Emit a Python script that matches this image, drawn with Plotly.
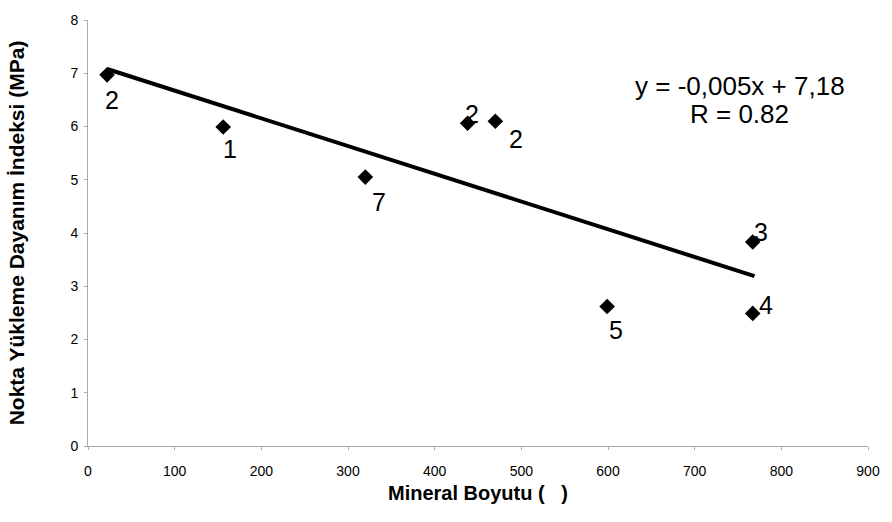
import plotly.graph_objects as go

# Data
mineral_size = [22, 156, 320, 438, 470, 599, 767, 767]
strength = [6.97, 5.99, 5.05, 6.06, 6.10, 2.62, 3.83, 2.49]
point_labels = ["2", "1", "7", "2", "2", "5", "3", "4"]

trend_x = [22, 769]
trend_y = [7.08, 3.19]

equation_lines = ["y = -0,005x + 7,18", "R = 0.82"]

x_ticks = [0, 100, 200, 300, 400, 500, 600, 700, 800, 900]
y_ticks = [0, 1, 2, 3, 4, 5, 6, 7, 8]

# Label pixel offsets (style only)
label_dx = [5, 7, 14, 4, 21, 9, 8, 13]
label_dy = [25, 22, 25, -9, 18, 24, -10, -8]

FONT = "Liberation Sans, Arial, sans-serif"

fig = go.Figure()
fig.add_trace(go.Scatter(
    x=trend_x, y=trend_y, mode="lines",
    line=dict(color="black", width=4), hoverinfo="skip", showlegend=False))
fig.add_trace(go.Scatter(
    x=mineral_size, y=strength, mode="markers",
    marker=dict(symbol="diamond", size=12, color="black"),
    showlegend=False))

for xv, yv, lab, dx, dy in zip(mineral_size, strength, point_labels, label_dx, label_dy):
    fig.add_annotation(
        x=xv, y=yv, xref="x", yref="y", text=lab, showarrow=False,
        xshift=dx, yshift=-dy,
        font=dict(family=FONT, size=25, color="black"))

for line_text, yv in zip(equation_lines, [6.77, 6.24]):
    fig.add_annotation(
        x=752, y=yv, xref="x", yref="y", text=line_text, showarrow=False,
        font=dict(family=FONT, size=26, color="black"), align="center")

fig.update_layout(
    width=892, height=522,
    margin=dict(l=88, r=16, t=12, b=76),
    paper_bgcolor="white", plot_bgcolor="white",
    font=dict(family=FONT, color="black"),
)
fig.update_xaxes(
    range=[0, 900], tickvals=x_ticks, showgrid=False, zeroline=False,
    showline=True, linecolor="#aaaaaa", linewidth=1,
    ticks="outside", ticklen=3, tickcolor="#aaaaaa",
    ticklabelstandoff=9,
    tickfont=dict(family=FONT, size=14, color="black"),
    title=dict(text="Mineral Boyutu (   )", standoff=8,
               font=dict(family=FONT, size=20, color="black", weight="bold")),
)
fig.update_yaxes(
    range=[0, 8], tickvals=y_ticks, showgrid=False, zeroline=False,
    showline=True, linecolor="#aaaaaa", linewidth=1,
    ticks="outside", ticklen=3, tickcolor="#aaaaaa",
    ticklabelstandoff=3,
    tickfont=dict(family=FONT, size=14, color="black"),
    title=dict(text="Nokta Yükleme Dayanım İndeksi (MPa)", standoff=40,
               font=dict(family=FONT, size=21, color="black", weight="bold")),
)

fig.write_html("out.html")
